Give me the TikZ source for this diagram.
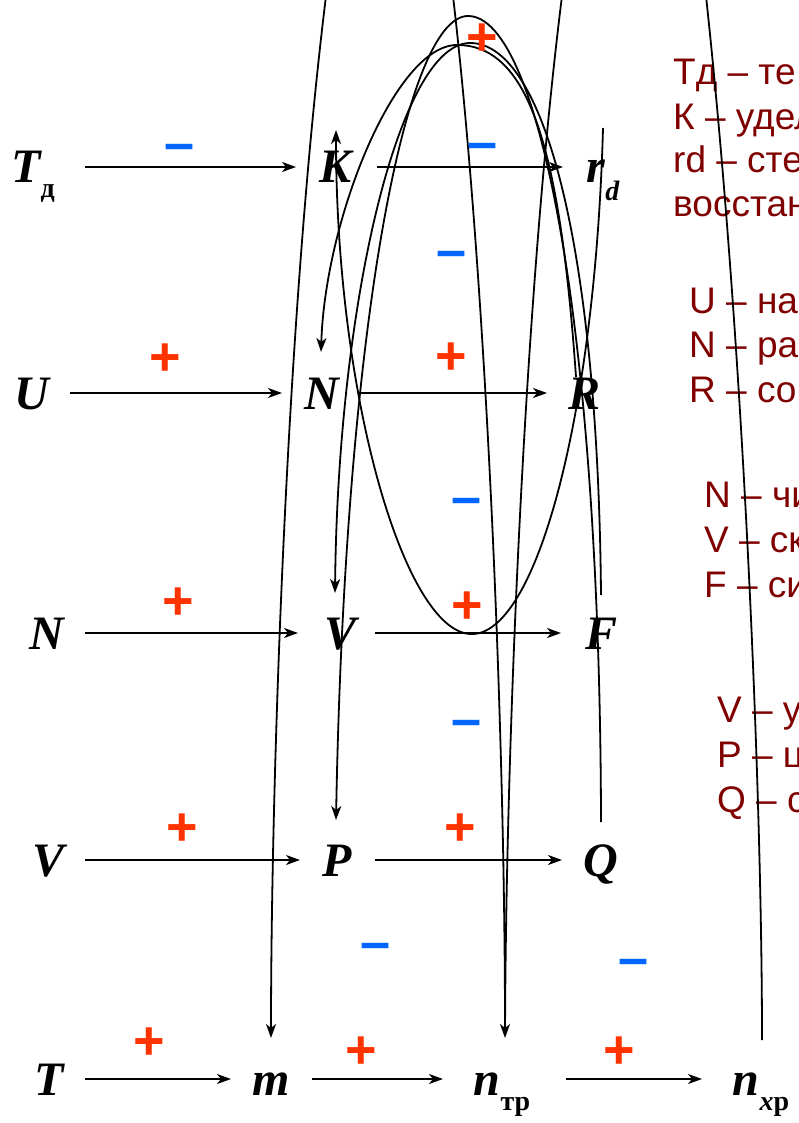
\documentclass[tikz,border=0pt]{standalone}
\usepackage{fontspec}
\setmainfont{Liberation Serif}
\newfontfamily\legfont{Liberation Sans}
\usetikzlibrary{arrows.meta,calc}
\definecolor{plusc}{RGB}{255,51,0}
\definecolor{minusc}{RGB}{0,102,255}
\definecolor{legc}{RGB}{128,0,0}
\newcommand\lsub[1]{\raisebox{-15pt}{\fontsize{28}{28}\selectfont\upshape #1}}
\newcommand\isub[1]{\raisebox{-18pt}{\fontsize{28}{28}\selectfont #1}}
\begin{document}
\begin{tikzpicture}[x=1pt,y=-1pt,
  lab/.style={font=\fontsize{48}{48}\selectfont\bfseries\itshape, inner sep=0pt, outer sep=0pt,
              text height=32pt, text depth=0pt, minimum width=60pt},
  arr/.style={line width=1.8pt, -{Stealth[length=14pt,width=10pt,inset=4pt]}},
  ln/.style={line width=1.8pt},
  pl/.style={font=\legfont\bfseries\fontsize{54}{54}\selectfont, text=plusc, inner sep=0pt, anchor=base},
  mi/.style={font=\legfont\bfseries\fontsize{54}{54}\selectfont, text=minusc, inner sep=0pt, anchor=base},
  leg/.style={font=\legfont\fontsize{37}{37}\selectfont, text=legc, inner sep=0pt, anchor=base west}
]
\useasboundingbox (0,0) rectangle (798,1123);

% legend (drawn first, lines pass over it)
\node[leg] (g1) at (673,85) {Тд – те};
\node[leg] (g2) at (673,130) {К – удел};
\node[leg] (g3) at (673,173) {rd – сте};
\node[leg] (g4) at (673,217) {восстан};
\node[leg] (g5) at (689,313) {U – на};
\node[leg] (g6) at (689,357) {N – ра};
\node[leg] (g7) at (689,402) {R – со};
\node[leg] (g8) at (704,507) {N – чи};
\node[leg] (g9) at (704,552) {V – ск};
\node[leg] (g10) at (704,597) {F – си};
\node[leg] (g11) at (717,722) {V – у};
\node[leg] (g12) at (717,767) {P – ц};
\node[leg] (g13) at (717,812) {Q – с};

% variable nodes
\node[lab] (Td) at (33,167) {T\lsub{д}};
\node[lab] (K) at (336,167) {K};
\node[lab] (rd) at (603,167) {r\isub{d}};
\node[lab] (U) at (32,393) {U};
\node[lab] (N) at (322,393) {N};
\node[lab] (R) at (584,393) {R};
\node[lab] (Nl) at (47,633) {N};
\node[lab] (V) at (341,633) {V};
\node[lab] (F) at (601,633) {F};
\node[lab] (Vl) at (49,860) {V};
\node[lab] (P) at (337,860) {P};
\node[lab] (Q) at (601,860) {Q};
\node[lab] (T) at (49,1079) {T};
\node[lab] (m) at (271,1079) {m};
\node[lab] (ntr) at (502,1079) {n\lsub{тр}};
\node[lab] (nxr) at (761,1079) {n\lsub{\itshape х\upshape р}};

% horizontal arrows
\draw[arr, shorten <=22pt, shorten >=10pt] (Td) -- (K);
\draw[arr, shorten <=11pt, shorten >=10pt] (K) -- (rd);
\draw[arr, shorten <=8pt, shorten >=10pt] (U) -- (N);
\draw[arr, shorten <=8pt, shorten >=7pt] (N) -- (R);
\draw[arr, shorten <=8pt, shorten >=13pt] (Nl) -- (V);
\draw[arr, shorten <=4pt, shorten >=10pt] (V) -- (F);
\draw[arr, shorten <=6pt, shorten >=7pt] (Vl) -- (P);
\draw[arr, shorten <=8pt, shorten >=9pt] (P) -- (Q);
\draw[arr, shorten <=6pt, shorten >=10pt] (T) -- (m);
\draw[arr, shorten <=11pt, shorten >=29pt] (m) -- (ntr);
\draw[arr, shorten <=34pt, shorten >=29pt] (ntr) -- (nxr);

% long lines from above
\coordinate (t1) at (326,-4);
\coordinate (t2) at (453,-4);
\coordinate (t3) at (562,-4);
\coordinate (t4) at (706,-4);
\draw[arr] (t1) .. controls (285,330) and (271,800) .. ($(m.north)+(0,-25)$);
\draw[arr] (t2) .. controls (488,300) and (505,750) .. ($(ntr.north)+(3,-25)$);
\draw[ln, shorten >=5pt] (t3) .. controls (524,300) and (506,750) .. ($(ntr.north)+(3,-25)$);
\draw[ln] (t4) .. controls (744,350) and (762,800) .. ($(nxr.north)+(1,-23)$);

% feedback loops
\draw[arr] ($(rd.north)+(0,-23)$) .. controls (595,420) and (535,638) .. (470,634)
           .. controls (405,630) and (336,400) .. ($(K.north)+(0,-21)$);
\draw[arr] ($(R.north)+(-8,0)$) .. controls (560,150) and (530,45) .. (457,45)
           .. controls (395,45) and (325,220) .. ($(N.north)+(-1,-25)$);
\draw[arr] ($(F.north)+(0,-22)$) .. controls (598,250) and (545,43) .. (470,43)
           .. controls (400,43) and (338,300) .. ($(V.north)+(-6,-24)$);
\draw[arr] ($(Q.north)+(0,-22)$) .. controls (600,330) and (540,16) .. (468,16)
           .. controls (405,16) and (345,330) .. ($(P.north)+(-1,-24)$);

% signs
\node[mi] (s1) at (180,162) {–};
\node[mi] (s2) at (483,161) {–};
\node[mi] (s3) at (452,268) {–};
\node[mi] (s4) at (467,515) {–};
\node[mi] (s5) at (467,737) {–};
\node[mi] (s6) at (376,960) {–};
\node[mi] (s7) at (634,976) {–};
\node[pl] (s8) at (482,56) {+};
\node[pl] (s9) at (165,375) {+};
\node[pl] (s10) at (451,374) {+};
\node[pl] (s11) at (178,619) {+};
\node[pl] (s12) at (467,623) {+};
\node[pl] (s13) at (182,845) {+};
\node[pl] (s14) at (460,845) {+};
\node[pl] (s15) at (149,1059) {+};
\node[pl] (s16) at (361,1068) {+};
\node[pl] (s17) at (619,1068) {+};
\end{tikzpicture}
\end{document}
